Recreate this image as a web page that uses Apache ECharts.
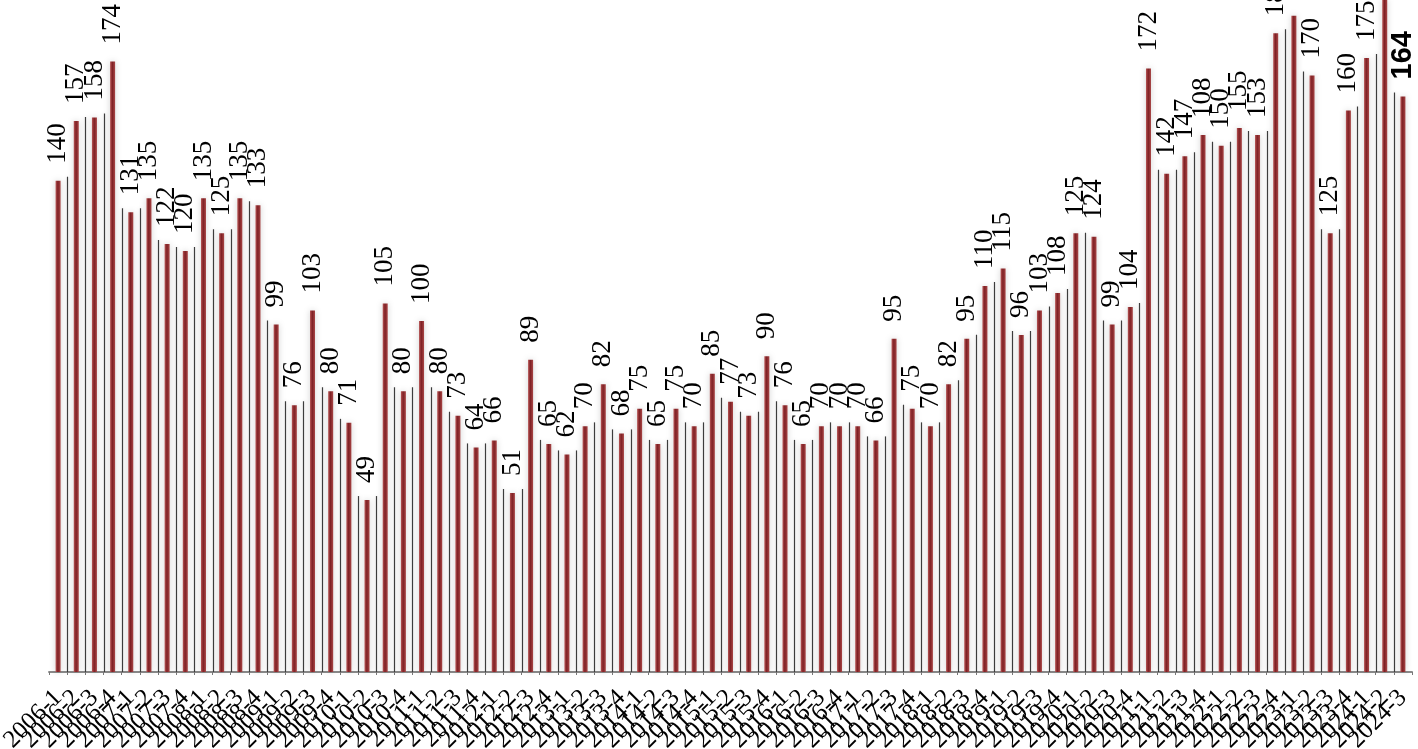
<!DOCTYPE html>
<html>
<head>
<meta charset="utf-8">
<script src="https://cdn.jsdelivr.net/npm/echarts@6/dist/echarts.min.js"></script>
<style>
  html, body { margin: 0; padding: 0; background: #fff; }
  #chart { width: 1418px; height: 749px; }
</style>
</head>
<body>
<div id="chart"></div>
<script>
// quarters 2006-1 .. 2024-3
const categories = [
  '2006-1','2006-2','2006-3','2006-4','2007-1','2007-2','2007-3','2007-4',
  '2008-1','2008-2','2008-3','2008-4','2009-1','2009-2','2009-3','2009-4',
  '2010-1','2010-2','2010-3','2010-4','2011-1','2011-2','2011-3','2011-4',
  '2012-1','2012-2','2012-3','2012-4','2013-1','2013-2','2013-3','2013-4',
  '2014-1','2014-2','2014-3','2014-4','2015-1','2015-2','2015-3','2015-4',
  '2016-1','2016-2','2016-3','2016-4','2017-1','2017-2','2017-3','2017-4',
  '2018-1','2018-2','2018-3','2018-4','2019-1','2019-2','2019-3','2019-4',
  '2020-1','2020-2','2020-3','2020-4','2021-1','2021-2','2021-3','2021-4',
  '2022-1','2022-2','2022-3','2022-4','2023-1','2023-2','2023-3','2023-4',
  '2024-1','2024-2','2024-3'
];
const values = [
  140,157,158,174,131,135,122,120,
  135,125,135,133,99,76,103,80,
  71,49,105,80,100,80,73,64,
  66,51,89,65,62,70,82,68,
  75,65,75,70,85,77,73,90,
  76,65,70,70,70,66,95,75,
  70,82,95,110,115,96,103,108,
  125,124,99,104,172,142,147,153,
  150,155,153,182,187,170,125,160,
  175,196,164
];
// text printed above each bar (one label in the picture does not match its bar)
const valueLabels = values.map(String);
valueLabels[63] = '108';
const lastIndex = values.length - 1;

// edge line between two neighbour bars reaches the lower of the two
const edgeData = values.slice(0, -1).map((v, i) => [i, Math.min(v, values[i + 1])]);

const chart = echarts.init(document.getElementById('chart'));

const barFill = new echarts.graphic.LinearGradient(0, 0, 1, 0, [
  { offset: 0, color: '#b85656' },
  { offset: 0.45, color: '#7e2024' },
  { offset: 1, color: '#a94646' }
]);

const option = {
  animation: false,
  grid: { left: 49, right: 6, top: 0, bottom: 77, outerBoundsMode: 'none', containLabel: false },
  xAxis: {
    type: 'category',
    data: categories,
    axisLine: { lineStyle: { color: '#8a8a8a', width: 2 } },
    axisTick: { show: true, length: 3, lineStyle: { color: '#777' } },
    axisLabel: {
      interval: 0, rotate: 45, margin: 22,
      fontFamily: 'Liberation Serif', fontSize: 25, color: '#000'
    }
  },
  yAxis: {
    type: 'value', min: 0, max: 191.5,
    show: false, splitLine: { show: false }
  },
  series: [
    {
      type: 'custom',
      data: edgeData,
      z: 1,
      silent: true,
      clip: false,
      renderItem: function(params, api){
        const i = api.value(0);
        const top = api.coord([i, api.value(1)]);
        const base = api.coord([i, 0]);
        const half = api.size([1, 0])[0] / 2;
        const x = Math.round(top[0] + half) + 0.5;
        return {
          type: 'line',
          shape: { x1: x, y1: base[1], x2: x, y2: top[1] - 4 },
          style: { stroke: '#3c3c3c', lineWidth: 1.2, shadowBlur: 4, shadowColor: 'rgba(0,0,0,0.18)' }
        };
      }
    },
    {
      type: 'bar',
      z: 2,
      barWidth: 5,
      data: values.map((v, i) => i === lastIndex
        ? { value: v, label: { fontFamily: 'Liberation Sans', fontWeight: 'bold', fontSize: 29 } }
        : v),
      itemStyle: {
        color: barFill,
        shadowBlur: 6,
        shadowColor: 'rgba(0,0,0,0.18)'
      },
      label: {
        show: true,
        position: 'top',
        distance: 17,
        rotate: 90,
        align: 'left',
        verticalAlign: 'middle',
        fontFamily: 'Liberation Serif',
        fontSize: 27,
        color: '#000',
        formatter: function(p){ return valueLabels[p.dataIndex]; }
      }
    }
  ]
};
chart.setOption(option);
</script>
</body>
</html>
